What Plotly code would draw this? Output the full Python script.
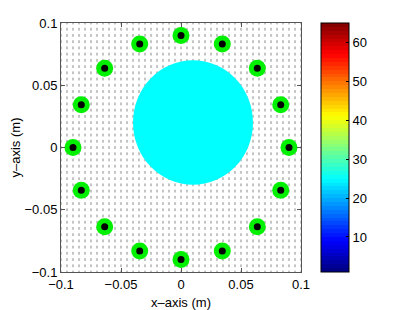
import numpy as np
import plotly.graph_objects as go

# ---- data ----
sensor_x = [0.0, 0.0344, 0.0636, 0.0831, 0.09, 0.0831, 0.0636, 0.0344,
            0.0, -0.0344, -0.0636, -0.0831, -0.09, -0.0831, -0.0636, -0.0344]
sensor_y = [0.09, 0.0831, 0.0636, 0.0344, 0.0, -0.0344, -0.0636, -0.0831,
            -0.09, -0.0831, -0.0636, -0.0344, 0.0, 0.0344, 0.0636, 0.0831]
object_center = [0.01, 0.02]
object_radius = 0.05
grid_vals = np.round(np.arange(-0.1, 0.1001, 0.005), 3)
x_ticks = [-0.1, -0.05, 0, 0.05, 0.1]
x_ticktext = ["\u22120.1", "\u22120.05", "0", "0.05", "0.1"]
y_ticks = [-0.1, -0.05, 0, 0.05, 0.1]
y_ticktext = ["\u22120.1", "\u22120.05", "0", "0.05", "0.1"]
cbar_range = [1, 65]
cbar_ticks = [10, 20, 30, 40, 50, 60]

# MATLAB-style jet colormap, 64 levels
def jet(t):
    r = np.clip(1.5 - abs(4 * t - 3), 0, 1)
    g = np.clip(1.5 - abs(4 * t - 2), 0, 1)
    b = np.clip(1.5 - abs(4 * t - 1), 0, 1)
    return "rgb(%d,%d,%d)" % (r * 255, g * 255, b * 255)

n = 64
cscale = []
for i in range(n):
    c = jet((i + 0.5) / n)
    cscale.append([i / n, c])
    cscale.append([(i + 1) / n, c])

gx, gy = np.meshgrid(grid_vals, grid_vals)

fig = go.Figure()
fig.add_trace(go.Scatter(
    x=gx.ravel(), y=gy.ravel(), mode="markers",
    marker=dict(symbol="line-ns", size=2, line=dict(width=1, color="#8a8a8a")),
    hoverinfo="skip", showlegend=False))
fig.add_trace(go.Scatter(
    x=sensor_x, y=sensor_y, mode="markers",
    marker=dict(size=17, color="#00f000"), showlegend=False))
fig.add_trace(go.Scatter(
    x=sensor_x, y=sensor_y, mode="markers",
    marker=dict(size=7, color="black"), showlegend=False))
# colorbar carrier
fig.add_trace(go.Scatter(
    x=[object_center[0]], y=[object_center[1]], mode="markers",
    marker=dict(size=1, color=[cbar_range[0]], cmin=cbar_range[0], cmax=cbar_range[1],
                colorscale=cscale, showscale=True,
                colorbar=dict(x=1.083, xanchor="left", xref="paper",
                              y=0.5, yanchor="middle", len=1.0, lenmode="fraction",
                              thickness=28, thicknessmode="pixels",
                              outlinewidth=1, outlinecolor="black",
                              tickvals=cbar_ticks, ticks="inside", ticklen=3,
                              tickcolor="black", ticklabelposition="outside",
                              tickfont=dict(size=13, color="black"), xpad=0, ypad=0)),
    showlegend=False, hoverinfo="skip"))

fig.add_shape(type="circle", xref="x", yref="y",
              x0=object_center[0] - object_radius, x1=object_center[0] + object_radius,
              y0=object_center[1] - object_radius, y1=object_center[1] + object_radius,
              fillcolor="#00ffff", line=dict(width=0), layer="above")

axis_common = dict(showgrid=False, zeroline=False, showline=True, linecolor="#555555",
                   linewidth=1, mirror="ticks", ticks="inside", ticklen=4, automargin=False,
                   tickcolor="#555555", tickfont=dict(size=13, color="black"))
fig.update_layout(
    width=403, height=302,
    margin=dict(l=53, r=110, t=15, b=38, autoexpand=False),
    paper_bgcolor="white", plot_bgcolor="white",
    font=dict(family="Liberation Sans, Arial, sans-serif", size=13, color="black"),
    xaxis=dict(range=[-0.1, 0.1], tickvals=x_ticks, ticktext=x_ticktext,
               title=dict(text="x\u2013axis (m)", standoff=8, font=dict(size=13)), **axis_common),
    yaxis=dict(range=[-0.1, 0.1], tickvals=y_ticks, ticktext=y_ticktext,
               title=dict(text="y\u2013axis (m)", standoff=12, font=dict(size=13)), **axis_common),
)
fig.write_html("out.html")
